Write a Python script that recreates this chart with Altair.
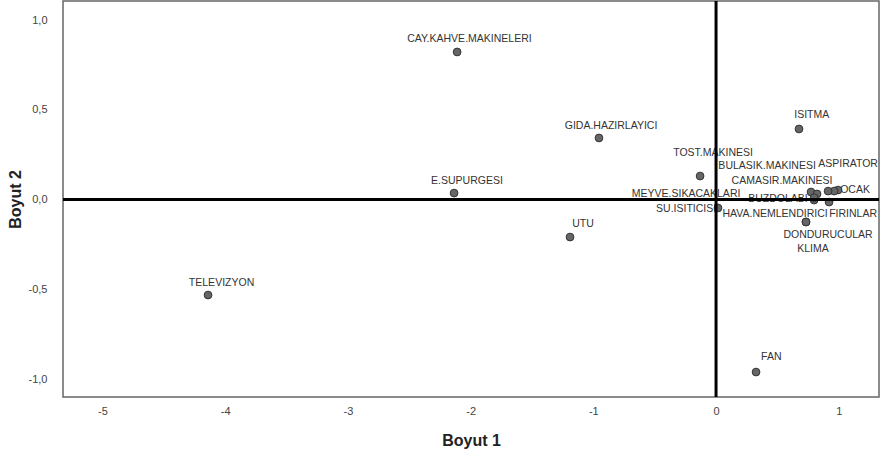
import altair as alt
import pandas as pd

names = ["CAY.KAHVE.MAKINELERI", "GIDA.HAZIRLAYICI", "E.SUPURGESI", "UTU", "TELEVIZYON",
         "TOST.MAKINESI", "ISITMA", "FAN", "SU.ISITICISI", "BULASIK.MAKINESI",
         "CAMASIR.MAKINESI", "BUZDOLABI", "ASPIRATOR", "OCAK", "HAVA.NEMLENDIRICI",
         "FIRINLAR", "DONDURUCULAR", "KLIMA", "MEYVE.SIKACAKLARI"]
dim1 = [-2.11, -0.954, -2.135, -1.19, -4.14, -0.13, 0.676, 0.326, 0.016, 0.774,
        0.823, 0.799, 0.994, 0.962, 0.913, 0.921, 0.733, 0.733, 0.80]
dim2 = [0.822, 0.343, 0.036, -0.209, -0.532, 0.131, 0.393, -0.961, -0.047, 0.042,
        0.031, -0.003, 0.053, 0.047, 0.047, -0.014, -0.125, -0.125, 0.01]
label_x = [-2.01, -0.856, -2.03, -1.084, -4.03, -0.024, 0.78, 0.45, -0.244, 0.416,
           0.538, 0.505, 1.076, 1.133, 0.481, 1.117, 0.913, 0.79, -0.244]
label_y = [0.894, 0.409, 0.103, -0.136, -0.465, 0.259, 0.47, -0.877, -0.053, 0.187,
           0.103, 0.003, 0.198, 0.053, -0.081, -0.081, -0.198, -0.276, 0.031]

x_ticks = [-5, -4, -3, -2, -1, 0, 1]
y_ticks = [-1.0, -0.5, 0.0, 0.5, 1.0]

df = pd.DataFrame({"name": names, "d1": dim1, "d2": dim2, "lx": label_x, "ly": label_y})
zero = pd.DataFrame({"v": [0]})

FONT = "Liberation Sans"
xs = alt.Scale(domain=[-5.322, 1.328], nice=False, zero=False)
ys = alt.Scale(domain=[-1.10, 1.106], nice=False, zero=False)

xaxis = alt.Axis(values=x_ticks, grid=False, ticks=False, domain=False, labelPadding=8,
                 labelExpr="(datum.value < 0 ? '-' : '') + format(abs(datum.value), 'd')",
                 labelFont=FONT, labelFontSize=11, labelColor="#444",
                 title="Boyut 1", titleFont=FONT, titleFontSize=16, titleFontWeight="bold",
                 titleColor="#222", titlePadding=16)
yaxis = alt.Axis(values=y_ticks, grid=False, ticks=False, domain=False, labelPadding=16,
                 labelExpr="(datum.value < 0 ? '-' : '') + replace(format(abs(datum.value), '.1f'), '.', ',')",
                 labelFont=FONT, labelFontSize=11, labelColor="#444",
                 title="Boyut 2", titleFont=FONT, titleFontSize=16, titleFontWeight="bold",
                 titleColor="#222", titlePadding=5)

base = alt.Chart(df)
points = base.mark_circle(size=60, color="#666", stroke="#333", strokeWidth=1, opacity=1).encode(
    x=alt.X("d1:Q", scale=xs, axis=xaxis),
    y=alt.Y("d2:Q", scale=ys, axis=yaxis),
)
labels = base.mark_text(font=FONT, fontSize=10.5, color="#333", align="center", baseline="middle").encode(
    x=alt.X("lx:Q", scale=xs),
    y=alt.Y("ly:Q", scale=ys),
    text="name:N",
)
vrule = alt.Chart(zero).mark_rule(color="black", strokeWidth=3).encode(x=alt.X("v:Q", scale=xs))
hrule = alt.Chart(zero).mark_rule(color="black", strokeWidth=3).encode(y=alt.Y("v:Q", scale=ys))

chart = alt.layer(labels, points, vrule, hrule).properties(
    width=816, height=396,
    autosize=alt.AutoSizeParams(type="none"),
    padding={"left": 63, "top": 1, "right": 4, "bottom": 62},
    background="white",
).configure_view(stroke="#666", strokeWidth=1.5)

chart.save("out.html", embed_options={"renderer": "svg", "actions": False})
